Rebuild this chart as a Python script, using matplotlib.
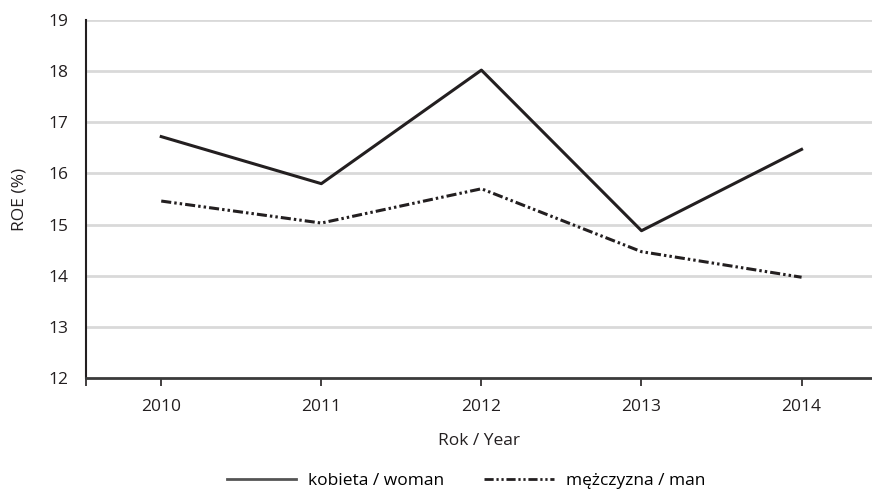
import numpy as np
import matplotlib.pyplot as plt
from matplotlib.lines import Line2D

years = ['2010', '2011', '2012', '2013', '2014']
woman = [16.72, 15.8, 18.02, 14.88, 16.47]
man = [15.46, 15.03, 15.7, 14.47, 13.97]

plt.rcParams['font.family'] = ['Open Sans', 'DejaVu Sans']
fs = 12.5
ink = '#231f20'
dd = (3.3, 1.0, 0.8, 1.0, 0.8, 1.0)

fig = plt.figure(figsize=(8.72, 4.93), dpi=100)
ax = fig.add_axes([86 / 872, 1 - 378 / 493, (872 - 86) / 872, (378 - 20) / 493])

x = np.arange(len(years))
ax.plot(x, woman, color=ink, lw=2.2, label='kobieta / woman')
ax.plot(x, man, color=ink, lw=2.2, dashes=dd, label='mężczyzna / man')

ax.set_ylim(12, 19)
ax.set_xlim(-0.47, 4.44)
ax.set_yticks(range(12, 20))
for v in range(13, 20):
    ax.axhline(v, color='#d9d9d9', lw=2, zorder=0)

ax.set_xticks(list(x) + [-0.47])
ax.set_xticklabels(years + [''])
ax.tick_params(axis='x', length=6, width=1.2, color=ink, pad=9, labelsize=fs, labelcolor=ink)
ax.tick_params(axis='y', length=0, pad=13, labelsize=fs, labelcolor=ink)

for s in ['top', 'right']:
    ax.spines[s].set_visible(False)
ax.spines['left'].set_color(ink)
ax.spines['left'].set_linewidth(1.5)
ax.spines['bottom'].set_color('#3a3a3a')
ax.spines['bottom'].set_linewidth(2)

ax.set_xlabel('Rok / Year', fontsize=fs, color=ink, labelpad=13)
fig.text(19 / 872, 1 - 199 / 493, 'ROE (%)', rotation=90, ha='center', va='center',
         fontsize=fs, color=ink)

handles = [Line2D([], [], color='#555555', lw=2),
           Line2D([], [], color=ink, lw=2, dashes=dd)]
fig.legend(handles, ['kobieta / woman', 'mężczyzna / man'], loc='center',
           bbox_to_anchor=(466 / 872, 1 - 481 / 493), ncol=2, frameon=False,
           fontsize=fs, handlelength=4, columnspacing=2.3, handletextpad=0.7)

fig.savefig('out.png', dpi=100)
